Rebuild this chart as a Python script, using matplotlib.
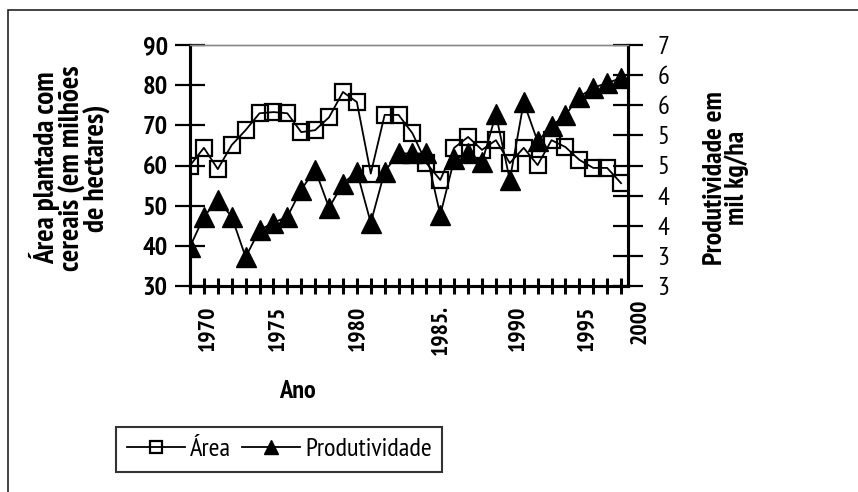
import numpy as np
import matplotlib
matplotlib.use("Agg")
import matplotlib.pyplot as plt
from matplotlib.ticker import MultipleLocator, FixedLocator, FuncFormatter
from matplotlib.patches import Rectangle

plt.rcParams['font.family'] = ['PT Sans Narrow', 'DejaVu Sans']

# data (one point per category)
area = [60, 64.4, 59.1, 65.1, 68.8, 73, 73.3, 73, 68.3, 68.8, 72, 78.3, 75.8, 58,
        72.6, 72.6, 68, 60.6, 56.4, 64.4, 67.1, 63.9, 66.3, 60.6, 64.4, 60.1,
        66.3, 64.6, 61.4, 59.4, 59.4, 55.6]
produtividade = [3.65, 4.15, 4.43, 4.15, 3.48, 3.93, 4.05, 4.15, 4.6, 4.93, 4.3, 4.7,
                 4.9, 4.05, 4.9, 5.2, 5.2, 5.2, 4.18, 5.1, 5.2, 5.05, 5.85, 4.76,
                 6.05, 5.4, 5.65, 5.84, 6.14, 6.29, 6.37, 6.45]
year_labels = ["1970", "1975", "1980", "1985.", "1990", "1995"]
year_label_pos = [1.3, 6.33, 12.1, 18.1, 23.6, 28.6]
last_label, last_label_pos = "2000", 32.4

x = np.arange(len(area))

W, H = 858, 492
fig = plt.figure(figsize=(W / 100, H / 100), dpi=100)
ax = fig.add_axes([190 / W, 1 - 286 / H, (628 - 190) / W, (286 - 45) / H])
ax2 = ax.twinx()

# outer frame of the original chart
fig.add_artist(Rectangle((8 / W, -0.1), 1.2, 1 - 10 / H + 0.1, transform=fig.transFigure,
                         fill=False, ec="#222222", lw=1.2))

l1, = ax.plot(x, area, color="black", lw=1.3, marker="s", ms=12, mfc="none",
              mec="black", mew=1.6, label="Área", zorder=3)
l2, = ax2.plot(x, produtividade, color="black", lw=1.3, marker="^", ms=15,
               mfc="black", mec="black", label="Produtividade", zorder=3)

ax.set_xlim(0, 31.5)
ax.set_ylim(30, 90)
ax2.set_ylim(3, 7)
ax.set_yticks(np.arange(30, 91, 10))
ax2.set_yticks(np.arange(3, 7.01, 0.5))
ax2.yaxis.set_major_formatter(FuncFormatter(lambda v, p: "%d" % int(v)))

ax.xaxis.set_major_locator(FixedLocator(year_label_pos))
ax.set_xticklabels(year_labels, rotation=90, fontsize=17, fontweight="bold")
ax.xaxis.set_minor_locator(MultipleLocator(1))
ax.tick_params(axis="x", which="major", length=0, pad=14)
ax.tick_params(axis="x", which="minor", direction="inout", length=11, width=2.2)
ax.text(last_label_pos, -0.053, last_label, rotation=90, fontsize=17, fontweight="bold",
        ha="center", va="top", transform=ax.get_xaxis_transform(), clip_on=False)

ax.tick_params(axis="y", direction="inout", length=22, width=1.6, labelsize=19, pad=5)
for t in ax.get_yticklabels():
    t.set_fontweight("bold")
ax2.tick_params(axis="y", direction="inout", length=22, width=1.6, labelsize=19, pad=10)

for a in (ax, ax2):
    a.spines["top"].set_color("#888888")
    a.spines["top"].set_linewidth(1.0)
    for s in ("left", "right", "bottom"):
        a.spines[s].set_linewidth(2.2)

fig.text(70 / W, 1 - 168 / H, "Área plantada com\ncereais (em milhões\nde hectares)",
         rotation=90, ha="center", va="center", multialignment="center",
         fontsize=21, fontweight="bold", linespacing=0.9)
fig.text(726 / W, 1 - 178 / H, "Produtividade em\nmil kg/ha", rotation=90,
         ha="center", va="center", multialignment="center", fontsize=20,
         fontweight="bold", linespacing=0.9)
fig.text(297 / W, 1 - 392 / H, "Ano", ha="center", va="center", fontsize=19,
         fontweight="bold")

leg = fig.legend([l1, l2], ["Área", "Produtividade"], loc="lower left",
                 bbox_to_anchor=(103 / W, 1 - 485 / H), ncol=2, fontsize=19,
                 frameon=True, fancybox=False, edgecolor="black", handlelength=2.2,
                 handletextpad=0.2, columnspacing=0.4, borderpad=0.4,
                 markerscale=0.7)
leg.get_frame().set_linewidth(1.5)

fig.savefig("out.png", dpi=100)
